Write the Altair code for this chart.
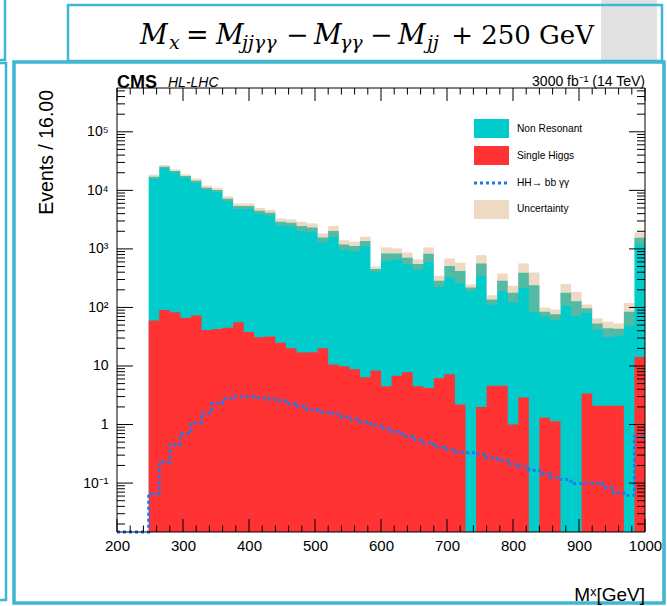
import altair as alt
import pandas as pd

# ---------------- data ----------------
first_edge = 248
bin_width = 16
non_resonant = [17040, 25260, 21300, 17480, 14550, 11050, 10080, 7150, 5340, 5360,
                4460, 4120, 2890, 2780, 2440, 2310, 1550, 2020, 1180, 1108,
                1353, 447, 832, 830, 697, 545, 822, 279, 501, 416,
                219, 563, 132, 280, 177, 388, 240, 83, 75, 178,
                128, 93, 51, 42, 41, 84, 1535]
single_higgs = [60, 90, 83, 66, 73, 41, 43, 45, 56, 38,
                31, 32, 25, 20, 17, 17.2, 20, 10.6, 9.9, 8.8,
                6.4, 8.4, 4.5, 6.8, 7.8, 4.5, 4.2, 6.2, 7.2, 2.2,
                0, 2.0, 4.6, 4.6, 1.0, 2.9, 0, 1.3, 1.14, 0,
                0, 3.4, 2.1, 2.1, 2.1, 0, 14.3]
uncertainty = [1400, 1700, 1400, 1200, 1200, 900, 820, 700, 590, 590,
               500, 480, 400, 390, 450, 400, 270, 430, 222, 207,
               252, 45, 223, 182, 165, 111, 234, 62, 179, 162,
               28, 218, 25, 96, 56, 174, 156, 15, 16, 72,
               57, 16, 12, 13, 10, 35, 364]
hh_start = 200
hh_signal = [0, 0, 0,
             0.066, 0.23, 0.45, 0.70, 1.07, 1.58, 2.28, 2.78, 2.97, 2.97,
             2.9, 2.71, 2.54, 2.28, 2.05, 1.80, 1.62, 1.54, 1.35, 1.23,
             1.11, 0.97, 0.85, 0.75, 0.63, 0.55, 0.49, 0.41, 0.38, 0.34,
             0.33, 0.31, 0.27, 0.24, 0.21, 0.19, 0.166, 0.145, 0.127, 0.115,
             0.098, 0.10, 0.10, 0.084, 0.068, 0.062, 0.62]

x_major = [200, 300, 400, 500, 600, 700, 800, 900, 1000]
x_minor = [v for v in range(200, 1001, 20) if v % 100 != 0]
y_major = [0.1, 1, 10, 100, 1000, 10000, 100000]
y_labels = ["10\u207b\u00b9", "1", "10", "10\u00b2", "10\u00b3", "10\u2074", "10\u2075"]
legend_labels = ["Non Resonant", "Single Higgs", "HH\u2192 bb \u03b3\u03b3", "Uncertainty"]

# formula pieces: (text, italic, subscript)
formula_parts = [("M", True, False), ("x", True, True), ("=", False, False),
                 ("M", True, False), ("jj\u03b3\u03b3", True, True), ("\u2212", False, False),
                 ("M", True, False), ("\u03b3\u03b3", True, True), ("\u2212", False, False),
                 ("M", True, False), ("jj", True, True)]
formula_x = [140, 169, 186, 216, 242, 286, 314, 340, 370, 398, 427]
formula_tail = "+ 250 GeV"

# ---------------- layout / style ----------------
W, H = 528, 444
OX, OY = 117, 88
YMIN, YMAX = 0.0146, 5.6e5
CYAN, RED, BLUE, TAN = "#00CCCC", "#FF3333", "#1E78F0", "#D4A068"
BOX = "#3FB6D2"
FONT = "Liberation Sans"
MATH = "DejaVu Serif"

y_minor = [m * 10.0 ** e for e in range(-2, 6) for m in range(2, 10)]
y_minor = [v for v in y_minor if YMIN < v < YMAX]

lo = [first_edge + bin_width * i for i in range(len(non_resonant))]
df = pd.DataFrame({"lo": lo, "hi": [v + bin_width for v in lo],
                   "nr": non_resonant, "sh": single_higgs, "err": uncertainty})
df["total"] = df["nr"] + df["sh"]
df["up"] = df["total"] + df["err"]
df["dn"] = df["total"] - df["err"]

# step outlines (one extra point closes the last bin)
step_df = pd.DataFrame({"x": lo + [lo[-1] + bin_width],
                        "total": list(df["total"]) + [df["total"].iloc[-1]],
                        "sh": single_higgs + [single_higgs[-1]]})

edges = [hh_start + bin_width * i for i in range(len(hh_signal) + 1)]
hh_df = pd.DataFrame({"x": edges, "hh": hh_signal + [hh_signal[-1]]})

xs = alt.Scale(domain=[200, 1000], nice=False, zero=False)
ys = alt.Scale(type="log", domain=[YMIN, YMAX], nice=False)

label_expr = "[" + ",".join("'%s'" % s for s in y_labels) + "][round(log(datum.value)/LN10)+1]"

xaxis = alt.Axis(values=x_major, ticks=False, domain=False, grid=False, title=None, format="d",
                 labelFont=FONT, labelFontSize=15, labelColor="black",
                 labelPadding=6, labelFlush=False, labelOverlap=False)
yaxis = alt.Axis(values=y_major, ticks=False, domain=False, grid=False, title=None,
                 labelFont=FONT, labelFontSize=14, labelColor="black",
                 labelPadding=9, labelExpr=label_expr, labelOverlap=False)

one = pd.DataFrame({"k": [0]})


def box(x1, x2, y1, y2, **kw):
    return alt.Chart(one).mark_rect(**kw).encode(
        x=alt.value(x1), x2=alt.value(x2), y=alt.value(y1), y2=alt.value(y2))


def text(t, x, y, **kw):
    return alt.Chart(pd.DataFrame({"t": [t]})).mark_text(**kw).encode(
        text="t:N", x=alt.value(x), y=alt.value(y))


# slide frames around the figure
frames = [
    box(-137, -112, -98, -28, fillOpacity=0, stroke=BOX, strokeWidth=2.5),
    box(-137, -111, -25, 512, fillOpacity=0, stroke=BOX, strokeWidth=2.5),
    box(484, 540, -88, -27, fill="#E1E1E1", stroke=None),
    box(-49, 545, -83, -27, fillOpacity=0, stroke=BOX, strokeWidth=2.5),
    box(-103, 547, -26, 515, fillOpacity=0, stroke=BOX, strokeWidth=3.5),
]

formula = []
for (t, ital, sub), fx in zip(formula_parts, formula_x):
    kw = dict(font=MATH, fontSize=19 if sub else 27, align="left",
              baseline="alphabetic", color="black")
    if ital:
        kw["fontStyle"] = "italic"
    formula.append(text(t, fx - OX, (49 if sub else 44) - OY, **kw))
formula.append(text(formula_tail, 594 - OX, 44 - OY, font=MATH, fontSize=26,
                    align="right", baseline="alphabetic", color="black"))

cyan = alt.Chart(step_df).mark_area(color=CYAN, interpolate="step-after").encode(
    x=alt.X("x:Q", scale=xs, axis=xaxis),
    y=alt.Y("total:Q", scale=ys, axis=yaxis, stack=None), y2=alt.datum(YMIN))

red = alt.Chart(step_df).transform_calculate(
    sv="max(datum.sh, %g)" % YMIN).mark_area(color=RED, interpolate="step-after").encode(
    x=alt.X("x:Q", scale=xs), y=alt.Y("sv:Q", scale=ys, stack=None), y2=alt.datum(YMIN))

unc = alt.Chart(df).mark_rect(fill=TAN, fillOpacity=0.4, stroke=None).encode(
    x=alt.X("lo:Q", scale=xs), x2="hi:Q",
    y=alt.Y("dn:Q", scale=ys), y2="up:Q")

hh = alt.Chart(hh_df).transform_calculate(
    hv="max(datum.hh, %g)" % YMIN).mark_line(
    color=BLUE, strokeWidth=3, strokeDash=[3, 3], interpolate="step-after").encode(
    x=alt.X("x:Q", scale=xs), y=alt.Y("hv:Q", scale=ys))

frame = box(0, W, 0, H, fillOpacity=0, stroke="black", strokeWidth=1)


def xticks(vals, ln):
    d = pd.DataFrame({"v": vals})
    bottom = alt.Chart(d).mark_rule(color="black", strokeWidth=1).encode(
        x=alt.X("v:Q", scale=xs), y=alt.value(H), y2=alt.value(H - ln))
    top = alt.Chart(d).mark_rule(color="black", strokeWidth=1).encode(
        x=alt.X("v:Q", scale=xs), y=alt.value(0), y2=alt.value(ln))
    return [bottom, top]


def yticks(vals, ln):
    d = pd.DataFrame({"v": vals})
    left = alt.Chart(d).mark_rule(color="black", strokeWidth=1).encode(
        y=alt.Y("v:Q", scale=ys), x=alt.value(0), x2=alt.value(ln))
    right = alt.Chart(d).mark_rule(color="black", strokeWidth=1).encode(
        y=alt.Y("v:Q", scale=ys), x=alt.value(W), x2=alt.value(W - ln))
    return [left, right]


ticks = xticks(x_major, 13) + xticks(x_minor, 6.5) + yticks(y_major, 16) + yticks(y_minor, 8)

labels = [
    text("Events / 16.00", -70, 2, font=FONT, fontSize=19.5, angle=270, align="right",
         baseline="middle", color="black"),
    text("M\u02e3[GeV]", W, 507, font=FONT, fontSize=19, align="right", color="black"),
    text("CMS", 0, -5, font=FONT, fontSize=18, fontWeight="bold", align="left", color="black"),
    text("HL-LHC", 51, -5, font=FONT, fontSize=14, fontStyle="italic", align="left", color="black"),
    text("3000 fb\u207b\u00b9 (14 TeV)", W, -6, font=FONT, fontSize=14, align="right", color="black"),
]

legend = [
    box(357, 392, 31, 50, fill=CYAN, stroke=None),
    box(357, 392, 58, 77, fill=RED, stroke=None),
    box(357, 392, 112, 131, fill=TAN, fillOpacity=0.4, stroke=None),
    alt.Chart(pd.DataFrame({"x": [357, 390]})).mark_line(
        color=BLUE, strokeWidth=3, strokeDash=[3, 3]).encode(
        x=alt.X("x:Q", scale=None), y=alt.value(95)),
]
for lab, yy in zip(legend_labels, [41, 68, 95, 121]):
    legend.append(text(lab, 400, yy, font=FONT, fontSize=10.2, align="left",
                       baseline="middle", color="black"))

chart = alt.layer(*frames, *formula, cyan, red, unc, hh, frame, *ticks, *labels, *legend).properties(
    width=W, height=H,
    autosize=alt.AutoSizeParams(type="none"),
    padding={"left": OX, "top": OY, "right": 667 - OX - W, "bottom": 606 - OY - H},
    background="white",
).configure_view(stroke=None)

chart.save("out.html", embed_options={"renderer": "svg", "actions": False})
